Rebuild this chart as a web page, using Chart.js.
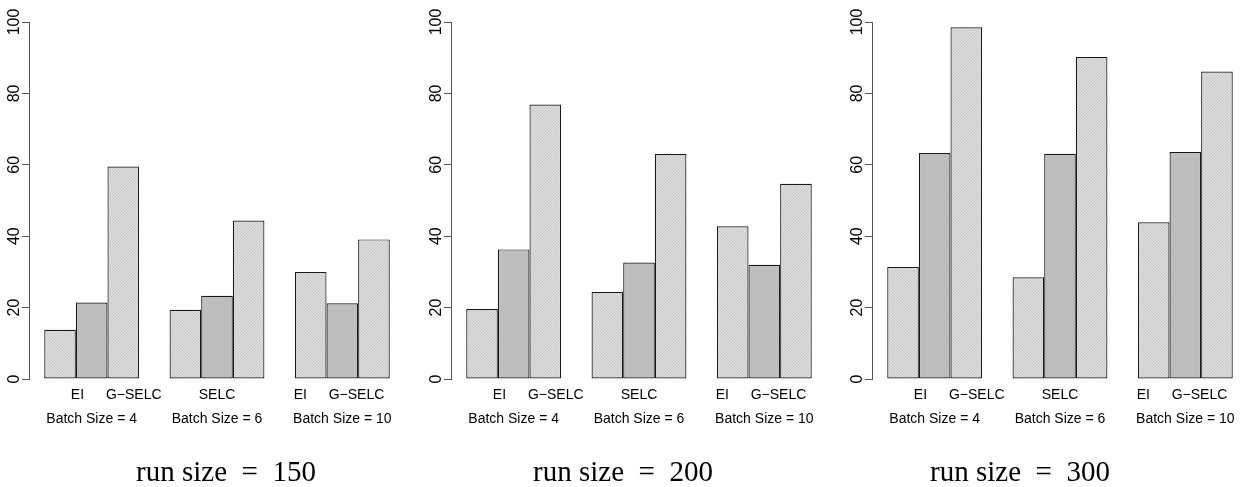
<!DOCTYPE html>
<html>
<head>
<meta charset="utf-8">
<script src="https://cdn.jsdelivr.net/npm/chart.js@4"></script>
<style>
  body { margin: 0; background: #fff; }
  #wrap { position: relative; width: 1258px; height: 487px; overflow: hidden; }
  .panel { position: absolute; top: 0; width: 420px; height: 487px; }
</style>
</head>
<body>
<div id="wrap">
  <div class="panel" style="left:0px"><canvas id="c150" width="420" height="487"></canvas></div>
  <div class="panel" style="left:422px"><canvas id="c200" width="420" height="487"></canvas></div>
  <div class="panel" style="left:843px"><canvas id="c300" width="420" height="487"></canvas></div>
</div>
<script>
// data
const runSizes = [150, 200, 300];
const batchLabels = ["Batch Size = 4", "Batch Size = 6", "Batch Size = 10"];
const methods = ["EI", "SELC", "G\u2212SELC"];
// R drops names that would overlap, so only some are printed
const shownNames = ["EI", "", "G\u2212SELC", "", "SELC", "", "EI", "", "G\u2212SELC"];
const yTicks = [0, 20, 40, 60, 80, 100];

const ei150 = [13.8, 19.4, 30.0];
const selc150 = [21.4, 23.3, 21.2];
const gselc150 = [59.5, 44.4, 39.1];

const ei200 = [19.6, 24.4, 42.8];
const selc200 = [36.3, 32.6, 32.0];
const gselc200 = [76.9, 63.0, 54.7];

const ei300 = [31.4, 28.5, 43.9];
const selc300 = [63.3, 63.1, 63.6];
const gselc300 = [98.5, 90.2, 86.1];

const panels = [
  [ei150, selc150, gselc150],
  [ei200, selc200, gselc200],
  [ei300, selc300, gselc300],
];

// caption centre inside each canvas (the captions are not under the axes' middle)
const captionX = [226, 201, 177];

const catPct = 0.757;
const sans = "'Liberation Sans', Arial, Helvetica, sans-serif";

// fine shading like R's density lines
function hatch(flip) {
  const c = document.createElement("canvas");
  c.width = 3; c.height = 3;
  const g = c.getContext("2d");
  g.fillStyle = "#dedede";
  g.fillRect(0, 0, 3, 3);
  g.fillStyle = "#c4c4c4";
  for (let i = 0; i < 3; i++) {
    g.fillRect(flip ? 2 - i : i, i, 1, 1);
  }
  return g.createPattern(c, "repeat");
}

const fills = [hatch(false), "#bebebe", hatch(true)];

// centres of each bar in category units, for the name axis
const namePos = [];
for (let g = 0; g < 3; g++) {
  for (let j = 0; j < 3; j++) {
    namePos.push(g + (j - 1) * catPct / 3);
  }
}

const caption = {
  id: "caption",
  afterDraw(chart, args, opts) {
    const ctx = chart.ctx;
    ctx.save();
    ctx.font = "29px 'Liberation Serif', 'DejaVu Serif', serif";
    ctx.fillStyle = "#000";
    ctx.textAlign = "center";
    ctx.textBaseline = "alphabetic";
    ctx.fillText(opts.text, opts.x, 481);
    ctx.restore();
  },
};

runSizes.forEach((rs, p) => {
  const ctx = document.getElementById("c" + rs);
  new Chart(ctx, {
    type: "bar",
    plugins: [caption],
    data: {
      labels: batchLabels,
      datasets: methods.map((m, j) => ({
        label: m,
        data: panels[p][j],
        backgroundColor: fills[j],
        borderColor: "#1a1a1a",
        borderWidth: 1.2,
        borderSkipped: false,
        barPercentage: 1,
        categoryPercentage: catPct,
        xAxisID: "x",
      })),
    },
    options: {
      responsive: false,
      animation: false,
      layout: { padding: { top: 22, right: 15, bottom: 58, left: 0 } },
      plugins: {
        legend: { display: false },
        tooltip: { enabled: false },
        caption: { text: "run size\u2002=\u2002" + rs, x: captionX[p] },
      },
      scales: {
        y: {
          min: 0,
          max: 100,
          afterBuildTicks: (s) => { s.ticks = yTicks.map((v) => ({ value: v })); },
          afterFit: (s) => { s.width = 29; },
          border: { display: true, color: "#555", width: 1 },
          grid: { drawOnChartArea: false, drawTicks: true, tickLength: 7, color: "#555" },
          ticks: {
            minRotation: 90,
            maxRotation: 90,
            crossAlign: "center",
            padding: -6,
            color: "#000",
            font: { family: sans, size: 16 },
          },
        },
        xn: {
          type: "linear",
          position: "bottom",
          weight: 0,
          min: -0.5,
          max: 2.5,
          afterBuildTicks: (s) => { s.ticks = namePos.map((v) => ({ value: v })); },
          afterFit: (s) => { s.height = 26; },
          border: { display: false },
          grid: { display: false, drawTicks: false },
          ticks: {
            autoSkip: false,
            maxRotation: 0,
            padding: 8,
            color: "#000",
            font: { family: sans, size: 14 },
            callback: (v, i) => shownNames[i],
          },
        },
        x: {
          position: "bottom",
          weight: 1,
          afterFit: (s) => { s.height = 24; },
          border: { display: false },
          grid: { display: false, drawTicks: false },
          ticks: {
            autoSkip: false,
            maxRotation: 0,
            padding: 6,
            color: "#000",
            font: { family: sans, size: 14 },
          },
        },
      },
    },
  });
});
</script>
</body>
</html>
